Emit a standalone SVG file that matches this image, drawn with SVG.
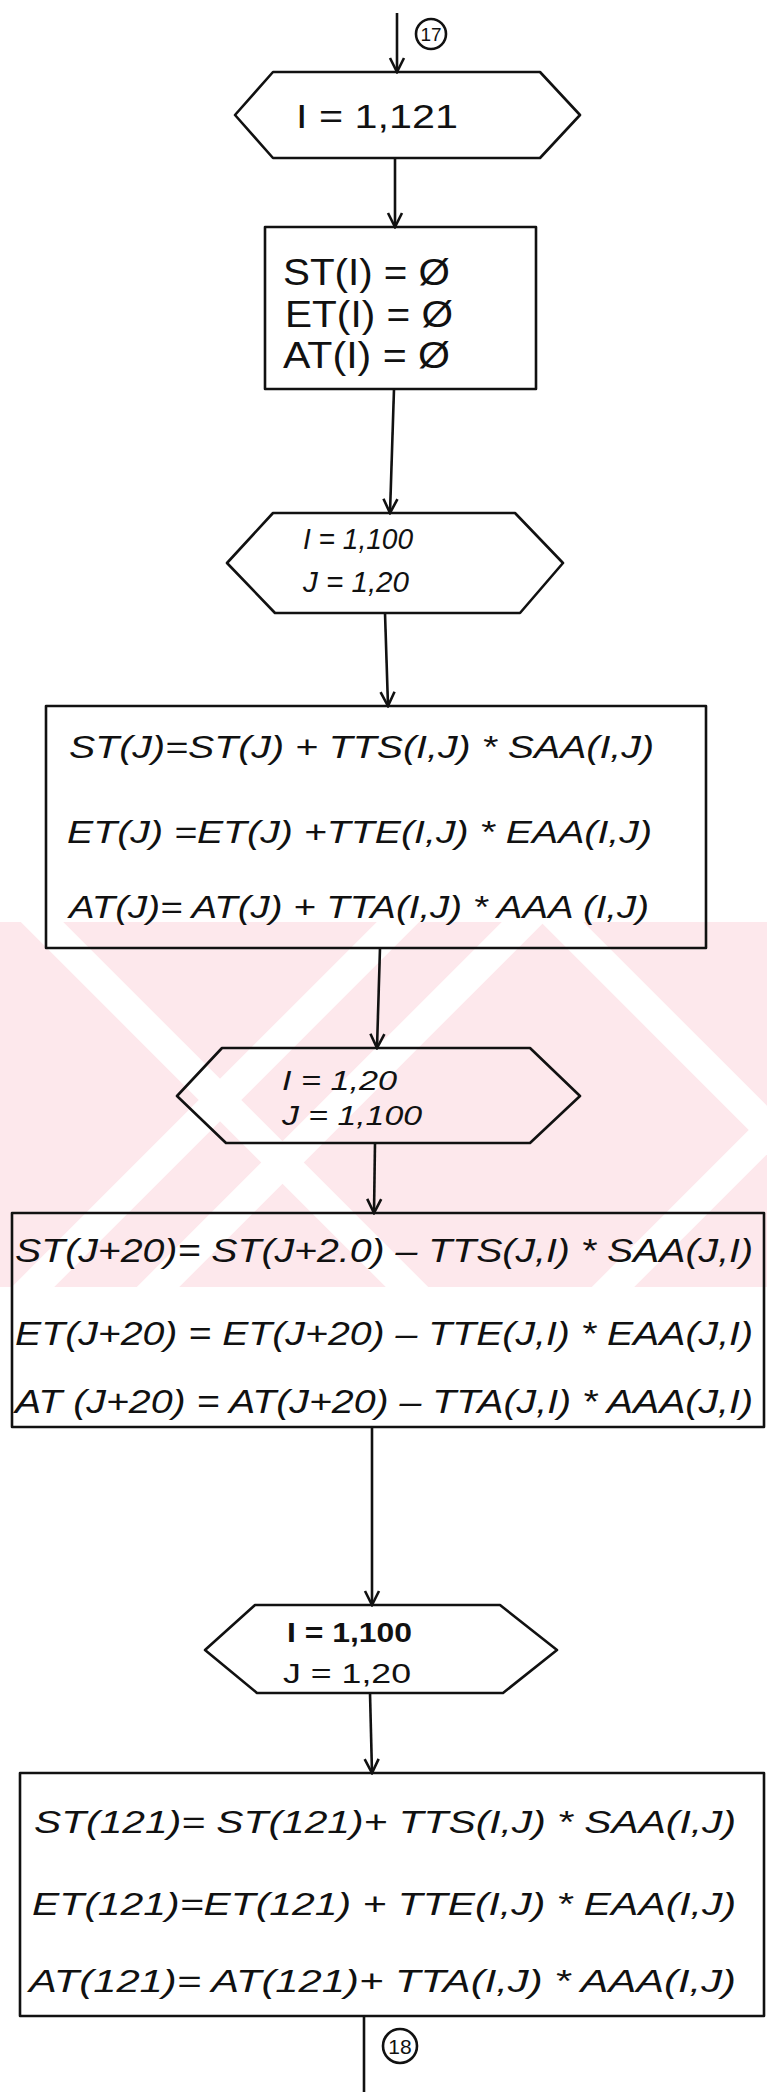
<svg xmlns="http://www.w3.org/2000/svg" width="767" height="2092" viewBox="0 0 767 2092">
<style>
.shape{fill:none;stroke:#111;stroke-width:2.6;stroke-linejoin:round}
.conn{fill:none;stroke:#111;stroke-width:2.6}
.t{font-family:"Liberation Sans",Arial,sans-serif;fill:#111}
.wm{fill:#fde8ec}
.ws{fill:none;stroke:#fff;stroke-width:30}
</style>
<defs>
<marker id="arr" viewBox="-16 -9 18 18" markerWidth="18" markerHeight="18" refX="0" refY="0" orient="auto" markerUnits="userSpaceOnUse">
<path d="M-14,-7 L0,0 L-14,7" fill="none" stroke="#111" stroke-width="2.6"/>
</marker>
<clipPath id="wmclip"><rect x="0" y="922" width="767" height="365"/></clipPath>
</defs>
<rect width="767" height="2092" fill="#fff"/>
<g id="watermark" clip-path="url(#wmclip)">
<rect class="wm" x="0" y="922" width="767" height="365"/>
<line class="ws" x1="20" y1="900" x2="420" y2="1300"/>
<line class="ws" x1="420" y1="900" x2="20" y2="1300"/>
<line class="ws" x1="540" y1="900" x2="940" y2="1300"/>
<line class="ws" x1="1000" y1="900" x2="600" y2="1300"/>
<line class="ws" x1="1045" y1="400" x2="145" y2="1300"/>
</g>
<g id="connectors">
<line class="conn" x1="397" y1="13" x2="397" y2="72" marker-end="url(#arr)"/>
<line class="conn" x1="395" y1="158" x2="395" y2="227" marker-end="url(#arr)"/>
<line class="conn" x1="394" y1="389" x2="390" y2="513" marker-end="url(#arr)"/>
<line class="conn" x1="385" y1="613" x2="388" y2="706" marker-end="url(#arr)"/>
<line class="conn" x1="380" y1="948" x2="377" y2="1048" marker-end="url(#arr)"/>
<line class="conn" x1="375" y1="1143" x2="374" y2="1213" marker-end="url(#arr)"/>
<line class="conn" x1="372" y1="1427" x2="372" y2="1605" marker-end="url(#arr)"/>
<line class="conn" x1="370" y1="1693" x2="372" y2="1773" marker-end="url(#arr)"/>
<line class="conn" x1="364" y1="2016" x2="364" y2="2092"/>
</g>
<g id="conn17">
<circle class="shape" cx="431" cy="34" r="15"/>
<text class="t" x="431" y="41" font-size="19" text-anchor="middle">17</text>
</g>
<g id="conn18">
<circle class="shape" cx="400" cy="2046" r="17"/>
<text class="t" x="400" y="2054" font-size="21" text-anchor="middle">18</text>
</g>
<g id="loop1">
<polygon class="shape" points="235,115 273,72 540,72 580,115 540,158 273,158"/>
<text class="t" x="296" y="128" font-size="33" textLength="162" lengthAdjust="spacingAndGlyphs">I = 1,121</text>
</g>
<g id="init">
<rect class="shape" x="265" y="227" width="271" height="162"/>
<text class="t" x="283" y="285" font-size="36" textLength="167" lengthAdjust="spacingAndGlyphs">ST(I) = Ø</text>
<text class="t" x="285" y="327" font-size="36" textLength="168" lengthAdjust="spacingAndGlyphs">ET(I) = Ø</text>
<text class="t" x="283" y="368" font-size="36" textLength="167" lengthAdjust="spacingAndGlyphs">AT(I) = Ø</text>
</g>
<g id="loop2">
<polygon class="shape" points="227,563 273,513 515,513 563,563 520,613 275,613"/>
<text class="t" x="303" y="549" font-size="29" font-style="italic" textLength="110" lengthAdjust="spacingAndGlyphs">I = 1,100</text>
<text class="t" x="303" y="592" font-size="29" font-style="italic" textLength="106" lengthAdjust="spacingAndGlyphs">J = 1,20</text>
</g>
<g id="sum1">
<rect class="shape" x="46" y="706" width="660" height="242"/>
<text class="t" x="69" y="758" font-size="32" font-style="italic" textLength="585" lengthAdjust="spacingAndGlyphs">ST(J)=ST(J) + TTS(I,J) * SAA(I,J)</text>
<text class="t" x="67" y="843" font-size="32" font-style="italic" textLength="585" lengthAdjust="spacingAndGlyphs">ET(J) =ET(J) +TTE(I,J) * EAA(I,J)</text>
<text class="t" x="69" y="918" font-size="32" font-style="italic" textLength="580" lengthAdjust="spacingAndGlyphs">AT(J)= AT(J) + TTA(I,J) * AAA (I,J)</text>
</g>
<g id="loop3">
<polygon class="shape" points="177,1096 222,1048 530,1048 580,1096 530,1143 226,1143"/>
<text class="t" x="282" y="1090" font-size="27" font-style="italic" textLength="115" lengthAdjust="spacingAndGlyphs">I = 1,20</text>
<text class="t" x="282" y="1125" font-size="27" font-style="italic" textLength="140" lengthAdjust="spacingAndGlyphs">J = 1,100</text>
</g>
<g id="sum2">
<rect class="shape" x="12" y="1213" width="752" height="214"/>
<text class="t" x="15" y="1262" font-size="34" font-style="italic" textLength="738" lengthAdjust="spacingAndGlyphs">ST(J+20)= ST(J+2.0) – TTS(J,I) * SAA(J,I)</text>
<text class="t" x="15" y="1345" font-size="34" font-style="italic" textLength="738" lengthAdjust="spacingAndGlyphs">ET(J+20) = ET(J+20) – TTE(J,I) * EAA(J,I)</text>
<text class="t" x="15" y="1413" font-size="34" font-style="italic" textLength="738" lengthAdjust="spacingAndGlyphs">AT (J+20) = AT(J+20) – TTA(J,I) * AAA(J,I)</text>
</g>
<g id="loop4">
<polygon class="shape" points="205,1650 255,1605 500,1605 557,1650 503,1693 257,1693"/>
<text class="t" x="287" y="1642" font-size="28" font-weight="bold" textLength="125" lengthAdjust="spacingAndGlyphs">I = 1,100</text>
<text class="t" x="283" y="1683" font-size="28" textLength="128" lengthAdjust="spacingAndGlyphs">J = 1,20</text>
</g>
<g id="sum3">
<rect class="shape" x="20" y="1773" width="744" height="243"/>
<text class="t" x="34" y="1833" font-size="32" font-style="italic" textLength="702" lengthAdjust="spacingAndGlyphs">ST(121)= ST(121)+ TTS(I,J) * SAA(I,J)</text>
<text class="t" x="32" y="1915" font-size="32" font-style="italic" textLength="704" lengthAdjust="spacingAndGlyphs">ET(121)=ET(121) + TTE(I,J) * EAA(I,J)</text>
<text class="t" x="29" y="1992" font-size="32" font-style="italic" textLength="707" lengthAdjust="spacingAndGlyphs">AT(121)= AT(121)+ TTA(I,J) * AAA(I,J)</text>
</g>
</svg>
